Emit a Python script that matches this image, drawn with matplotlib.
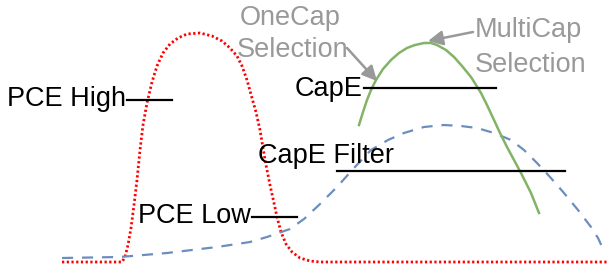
import matplotlib.pyplot as plt

plt.rcParams['font.family'] = ['Liberation Sans', 'DejaVu Sans']

# 曲线坐标（按参考图像素读取，y 向下）
red_x = [62, 122, 125, 128, 131, 134, 137, 140, 143, 147, 152, 157, 163, 170, 178, 187, 200,
         212, 222, 230, 237, 242, 247, 252, 256, 260, 263, 266, 270, 274, 277, 281, 286, 292,
         300, 310, 320, 608]
red_y = [262, 262, 257, 245, 228, 205, 180, 150, 125, 103, 82, 66, 53, 44, 38, 34, 33,
         36, 41, 48, 56, 66, 80, 98, 112, 130, 148, 165, 185, 203, 217, 232, 244, 252,
         258, 261, 262, 262]

blue_x = [62, 120, 167, 217, 250, 267, 290, 304, 320, 337, 354, 371, 388, 404, 424, 444, 461,
          477, 494, 511, 524, 537, 550, 564, 578, 591, 598, 604]
blue_y = [258, 257, 253, 247, 242, 237, 229, 219, 204, 187, 168, 150, 140, 133, 127, 125, 126,
          128, 133, 140, 150, 163, 177, 193, 210, 227, 238, 251]

green_x = [359, 363, 367, 371, 376, 383, 391, 399, 407, 415, 424, 431, 437, 446, 454, 462, 471,
           481, 487, 494, 500, 507, 514, 521, 531, 539]
green_y = [125, 112, 100, 90, 80, 69, 60, 53, 48, 45, 43, 43, 45, 50, 57, 66, 77,
           93, 105, 120, 133, 147, 160, 173, 193, 213]

# 阈值线: (标签, 文字x, 基线y, 线起点, 线终点, 线y)
labels = ['PCE High', 'PCE Low', 'CapE', 'CapE Filter']
label_x = [7, 138, 295, 258]
label_base = [106, 223, 96, 163]
line_x0 = [127, 252, 364, 337]
line_x1 = [172, 297, 496, 565]
line_y = [100, 217, 88, 171]

# 灰色注释（两行分别放置）
note_lines = [('OneCap', 'Selection'), ('MultiCap', 'Selection')]
note_x = [(240, 237), (475, 475)]
note_base = [(25, 57), (37, 72)]
arrow_tail = [(347, 48), (473, 32)]
arrow_tip = [(377, 81), (428, 41)]

fig = plt.figure(figsize=(6.08, 2.67), dpi=100)
ax = fig.add_axes([0, 0, 1, 1])
ax.set_xlim(0, 608)
ax.set_ylim(267, 0)
ax.axis('off')

ax.plot(red_x, red_y, color='#ff0000', lw=2, linestyle=(0, (0.8, 0.9)))
ax.plot(blue_x, blue_y, color='#6c8ebf', lw=1.6, linestyle=(0, (5, 4)))
ax.plot(green_x, green_y, color='#82b366', lw=1.8)

for lab, x, yb, x0, x1, yl in zip(labels, label_x, label_base, line_x0, line_x1, line_y):
    ax.text(x, yb, lab, fontsize=19.5, color='black', ha='left', va='baseline')
    ax.plot([x0, x1], [yl, yl], color='black', lw=1.6)

for lines, xs, ybs, tail, tip in zip(note_lines, note_x, note_base, arrow_tail, arrow_tip):
    for s, x, yb in zip(lines, xs, ybs):
        ax.text(x, yb, s, fontsize=19.5, color='#999999', ha='left', va='baseline')
    ax.annotate('', xy=tip, xytext=tail,
                arrowprops=dict(arrowstyle='-|>', color='#999999', lw=1.8,
                                mutation_scale=22, shrinkA=0, shrinkB=0))

fig.savefig('out.png', dpi=100)
